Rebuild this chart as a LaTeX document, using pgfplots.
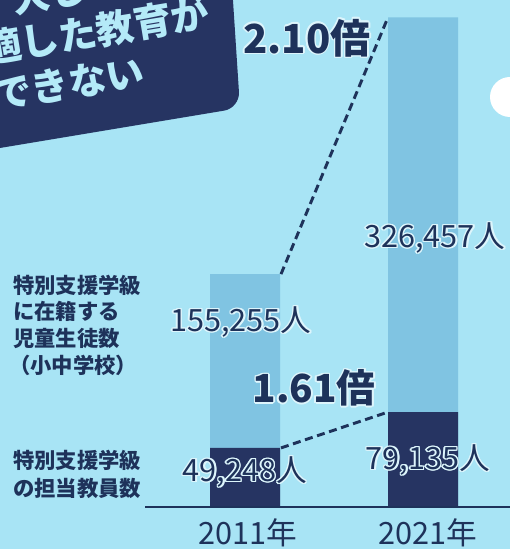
\documentclass[border=0pt]{standalone}
\usepackage{fontspec}
\setmainfont{Noto Sans CJK JP}
\usepackage{pgfplots}
\pgfplotsset{compat=1.18}
\usetikzlibrary{calc}
\definecolor{bg}{HTML}{A8E4F5}
\definecolor{lightbar}{HTML}{80C4E2}
\definecolor{darkbar}{HTML}{263462}
\definecolor{navy}{HTML}{1E325A}
\definecolor{halo}{HTML}{DDF5FC}
\definecolor{boxtext}{HTML}{B4EAF8}
\newcommand{\htext}[3]{%
  \foreach \a in {0,30,...,330}{\node[font=#2,text=halo,inner sep=0pt] at ($(#1)+(\a:1.1pt)$) {#3};}%
  \node[font=#2,text=navy,inner sep=0pt] at (#1) {#3};}
\begin{document}
\begin{tikzpicture}
\useasboundingbox (0,0) rectangle (382.5pt,411.75pt);
\fill[bg] (0,0) rectangle (382.5pt,411.75pt);
% students (light bars)
\begin{axis}[at={(0,0)},anchor=south west,scale only axis,width=382.5pt,height=411.75pt,
  xmin=0,xmax=510,ymin=-28000,ymax=338000,axis lines=none,ticks=none,clip=false]
\addplot[ybar,bar width=70,bar shift=0pt,fill=lightbar,draw=none] coordinates {(245,155255) (423,326457)};
\addplot[navy,line width=2.2pt,dash pattern=on 6pt off 3.5pt] coordinates {(281,155255) (388,326457)};
\end{axis}
% teachers (dark bars)
\begin{axis}[at={(0,0)},anchor=south west,scale only axis,width=382.5pt,height=411.75pt,
  xmin=0,xmax=510,ymin=-35000,ymax=422500,axis lines=none,ticks=none,clip=false]
\addplot[ybar,bar width=70,bar shift=0pt,fill=darkbar,draw=none] coordinates {(245,49248) (423,79135)};
\addplot[navy,line width=2.2pt,dash pattern=on 6pt off 3.5pt] coordinates {(281,49248) (388,79135)};
\end{axis}
\begin{scope}[x=0.75pt,y=-0.75pt,shift={(0pt,411.75pt)}]
\draw[navy,line width=1.5pt] (145,507) -- (510,507);
\fill[white] (510,97) circle (15pt);
% title box
\fill[darkbar,rounded corners=12pt] (-30,153) -- (240,108) -- (231,-30) -- (-30,-30) -- cycle;
\node[font=\fontsize{28.5}{30}\selectfont\bfseries,text=boxtext,rotate=9.5,anchor=base west,inner sep=0pt] at (14,14) {大し};
\node[font=\fontsize{28.5}{30}\selectfont\bfseries,text=boxtext,rotate=9.5,anchor=base west,inner sep=0pt] at (-14,64) {適した教育が};
\node[font=\fontsize{28.5}{30}\selectfont\bfseries,text=boxtext,rotate=9.5,anchor=base west,inner sep=0pt] at (-4,110) {できない};
% ratios
\htext{307,38}{\fontsize{30}{34}\selectfont\bfseries}{2.10倍}
\htext{314,388}{\fontsize{29}{33}\selectfont\bfseries}{1.61倍}
% values
\htext{241,322}{\fontsize{23}{26}\selectfont}{155,255人}
\htext{435,238}{\fontsize{23}{26}\selectfont}{326,457人}
\htext{245,472}{\fontsize{23}{26}\selectfont}{49,248人}
\htext{428,460}{\fontsize{23}{26}\selectfont}{79,135人}
% years
\node[font=\fontsize{23}{26}\selectfont,text=navy] at (248,533) {2011年};
\node[font=\fontsize{23}{26}\selectfont,text=navy] at (428,533) {2021年};
% left labels
\begin{scope}[every node/.style={font=\fontsize{16}{18}\selectfont\bfseries,text=navy,anchor=west,inner sep=0pt}]
\node at (13,285) {特別支援学級};
\node at (13,311) {に在籍する};
\node at (13,338) {児童生徒数};
\node at (9,365) {（小中学校）};
\node at (13,460) {特別支援学級};
\node at (13,488) {の担当教員数};
\end{scope}
\end{scope}
\end{tikzpicture}
\end{document}
